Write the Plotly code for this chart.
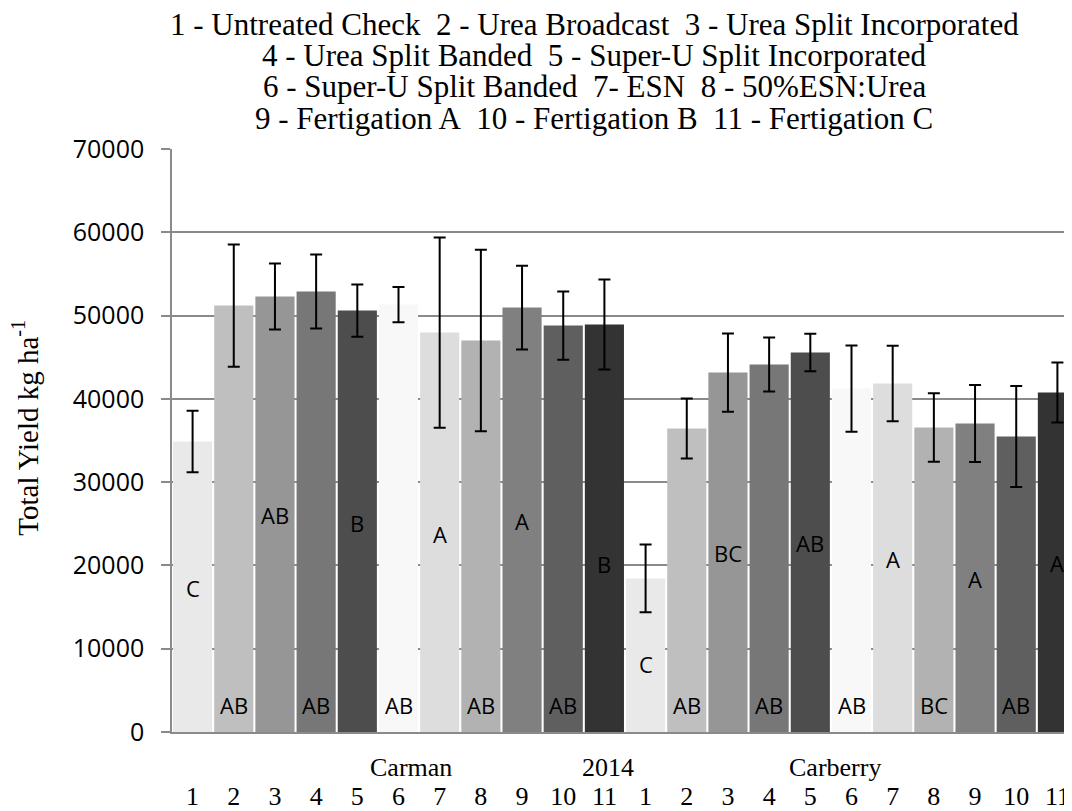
import plotly.graph_objects as go

# ---- data ----
sites = ["Carman"] * 11 + ["Carberry"] * 11
treatments = [str(i) for i in range(1, 12)] * 2
yields = [34880, 51200, 52280, 52880, 50600, 51320, 47960, 47000, 50960, 48800, 48920,
          18440, 36440, 43160, 44120, 45560, 41240, 41840, 36560, 37040, 35480, 40760]
errors = [3680, 7340, 3960, 4440, 3140, 2120, 11420, 10900, 5020, 4100, 5400,
          4060, 3600, 4700, 3240, 2260, 5180, 4540, 4100, 4620, 6060, 3600]
letters = ["C", "AB", "AB", "AB", "B", "AB", "A", "AB", "A", "AB", "B",
           "C", "AB", "BC", "AB", "AB", "AB", "A", "BC", "A", "AB", "A"]
letter_y = [17320, 3300, 26000, 3300, 25120, 3300, 23800, 3300, 25320, 3300, 20200,
            8200, 3300, 21520, 3300, 22720, 3300, 20720, 3300, 18400, 3300, 20320]
treat_colors = ["#E9E9E9", "#BFBFBF", "#969696", "#777777", "#4D4D4D", "#F8F8F8",
                "#DDDDDD", "#B2B2B2", "#808080", "#5F5F5F", "#333333"]
title_lines = [
    "1 - Untreated Check\u00a0\u00a02 - Urea Broadcast\u00a0\u00a03 - Urea Split Incorporated",
    "4 - Urea Split Banded\u00a0\u00a05 - Super-U Split Incorporated",
    "6 - Super-U Split Banded\u00a0\u00a07- ESN\u00a0\u00a08 - 50%ESN:Urea",
    "9 - Fertigation A\u00a0\u00a010 - Fertigation B\u00a0\u00a011 - Fertigation C",
]
y_ticks = [0, 10000, 20000, 30000, 40000, 50000, 60000, 70000]

ids = [f"{s}-{t}" for s, t in zip(sites, treatments)]
colors = [treat_colors[int(t) - 1] for t in treatments]

serif = "Liberation Serif, Times New Roman, serif"
sans = "Open Sans, Noto Sans, sans-serif"
grid = "#8A8A8A"

fig = go.Figure()
fig.add_trace(go.Bar(
    x=ids, y=yields,
    marker=dict(color=colors, line=dict(width=0)),
    error_y=dict(type="data", array=errors, visible=True, color="black",
                 thickness=2, width=6),
    showlegend=False,
))

for xi, yi, t in zip(ids, letter_y, letters):
    fig.add_annotation(x=xi, y=yi, text=t, showarrow=False,
                       font=dict(family=sans, size=22, color="black"),
                       xanchor="center", yanchor="middle")

for name, xp in [("Carman", 0.2638), ("2014", 0.4812), ("Carberry", 0.7318)]:
    fig.add_annotation(x=xp, y=-0.0617, xref="paper", yref="paper", text=name,
                       showarrow=False, font=dict(family=serif, size=26, color="black"),
                       xanchor="center", yanchor="middle")

for line, yp in zip(title_lines, [1.2135, 1.1610, 1.1068, 1.0525]):
    fig.add_annotation(x=0.4658, y=yp, xref="paper", yref="paper", text=line,
                       showarrow=False, font=dict(family=serif, size=31, color="black"),
                       xanchor="center", yanchor="middle")

fig.add_annotation(x=-0.1622, y=0.522, xref="paper", yref="paper",
                   text="Total Yield kg ha<sup>-1</sup>", textangle=-90, showarrow=False,
                   font=dict(family=serif, size=29, color="black"),
                   xanchor="center", yanchor="middle")

fig.update_layout(
    width=1070, height=803,
    margin=dict(l=164, r=0, t=141, b=72, pad=0),
    paper_bgcolor="white", plot_bgcolor="white",
    bargap=0.05,
    xaxis=dict(type="category", tickmode="array", tickvals=ids, ticktext=treatments,
               tickfont=dict(family=serif, size=26, color="black"),
               showline=True, linecolor=grid, linewidth=1.5,
               showgrid=False, ticks="", ticklabelstandoff=40,
               range=[-0.5, 21.5]),
    yaxis=dict(range=[0, 70000], tickvals=y_ticks, tickformat="d",
               tickfont=dict(family=sans, size=25, color="black"),
               showline=True, linecolor=grid, linewidth=1.5,
               showgrid=True, gridcolor=grid, gridwidth=1.5, zeroline=False,
               ticks="outside", ticklen=9, tickcolor=grid, tickwidth=1.5,
               ticklabelstandoff=12),
)

fig.write_html("out.html")
